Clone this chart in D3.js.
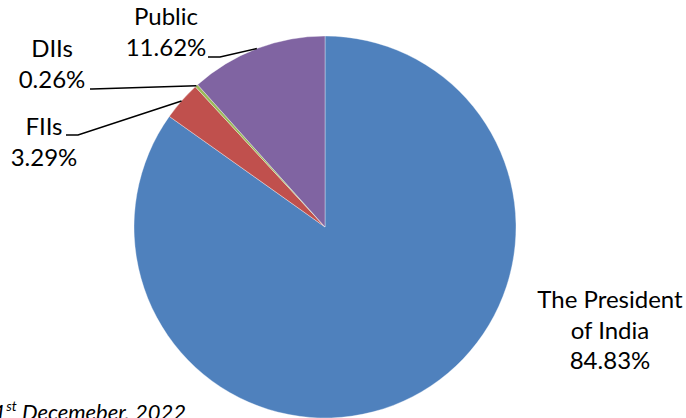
<!DOCTYPE html>
<html>
<head>
<meta charset="utf-8">
<script src="https://cdn.jsdelivr.net/npm/d3@7"></script>
<style>
  body { margin: 0; background: #fff; }
  text { font-family: Lato, "Open Sans", sans-serif; fill: #000; }
</style>
</head>
<body>
<div id="container"></div>
<script>
// data
const names = ["The President of India", "FIIs", "DIIs", "Public"];
const shares = [84.83, 3.29, 0.26, 11.62];
const colors = ["#4F81BD", "#C0504D", "#9BBB59", "#8064A2"];
const labelLines = [["The President", "of India", "84.83%"], ["FIIs", "3.29%"], ["DIIs", "0.26%"], ["Public", "11.62%"]];

const width = 686, height = 418;
const cx = 325, cy = 227, r = 191;

const svg = d3.select("#container")
  .append("svg")
  .attr("width", width)
  .attr("height", height);

const pie = d3.pie().sort(null).value(d => d);
const arcs = pie(shares);
const arc = d3.arc().innerRadius(0).outerRadius(r);

const g = svg.append("g").attr("transform", `translate(${cx},${cy})`);

g.selectAll("path")
  .data(arcs)
  .join("path")
  .attr("d", arc)
  .attr("fill", (d, i) => colors[i])
  .attr("stroke", "rgba(255,255,255,0.5)")
  .attr("stroke-width", 0.7);

// label placement (text block centre + first baseline)
const labelPos = [
  { x: 610, y: 308 },
  { x: 44, y: 135 },
  { x: 52, y: 57 },
  { x: 166, y: 25 }
];
// leader line: start near text, horizontal elbow, then to slice edge
const leaders = [
  null,
  { x0: 66, y0: 135, x1: 78 },
  { x0: 90, y0: 89, x1: 92 },
  { x0: 208, y0: 57, x1: 220 }
];

labelLines.forEach((lines, i) => {
  const p = labelPos[i];
  const t = svg.append("text")
    .attr("text-anchor", "middle")
    .style("font-size", "24px");
  lines.forEach((s, j) => {
    t.append("tspan").attr("x", p.x).attr("y", p.y + j * 30.5).text(s);
  });
  const L = leaders[i];
  if (L) {
    const a = arcs[i];
    const ang = (a.startAngle + a.endAngle) / 2;
    const ex = cx + Math.sin(ang) * r, ey = cy - Math.cos(ang) * r;
    svg.append("polyline")
      .attr("points", `${L.x0},${L.y0} ${L.x1},${L.y0} ${ex},${ey}`)
      .attr("fill", "none")
      .attr("stroke", "#000")
      .attr("stroke-width", 1.5);
  }
});

// footnote (cut off at the left and bottom edges, as in the source)
const note = svg.append("text")
  .attr("x", 186)
  .attr("y", 420)
  .attr("text-anchor", "end")
  .style("font-size", "22px")
  .style("font-style", "italic");
note.append("tspan").text("As on 31");
note.append("tspan").attr("dy", -9).style("font-size", "14px").text("st");
note.append("tspan").attr("dy", 9).text(" Decemeber, 2022");
</script>
</body>
</html>
